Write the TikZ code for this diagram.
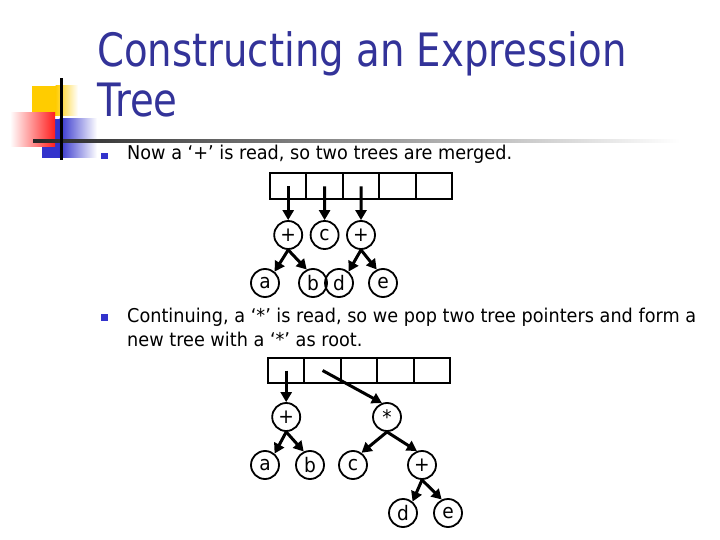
\documentclass[tikz,border=0pt]{standalone}
\usepackage{fontspec}
\usetikzlibrary{arrows.meta}
\newfontfamily\tahoma{DejaVu Sans}[FakeStretch=0.93]
\newfontfamily\tahomatitle{DejaVu Sans}[FakeStretch=0.84]
\definecolor{titleblue}{RGB}{51,51,153}
\definecolor{bulletblue}{RGB}{51,51,204}
\definecolor{logoyellow}{RGB}{255,204,0}
\definecolor{logoblue}{RGB}{51,51,204}
\definecolor{logored}{RGB}{255,30,30}
\tikzset{
  cell/.style={draw, line width=2pt, rectangle, minimum width=36.4pt, minimum height=26pt, inner sep=0pt, outer sep=0pt},
  tnode/.style={draw, line width=1.8pt, circle, minimum size=28pt, inner sep=0pt, font=\tahoma\fontsize{20}{20}\selectfont},
  ptr/.style={line width=3pt, -{Triangle[length=10pt,width=11pt]}},
  body/.style={anchor=base west, inner sep=0pt, font=\tahoma\fontsize{19}{24}\selectfont},
  titletext/.style={anchor=base west, inner sep=0pt, text=titleblue, font=\tahomatitle\fontsize{46}{52}\selectfont},
  bullet/.style={fill=bulletblue, draw=none, minimum width=7pt, minimum height=6.5pt, inner sep=0pt}
}
\begin{document}
\begin{tikzpicture}[x=1pt,y=-1pt]
\useasboundingbox[fill=white] (0,0) rectangle (720,540);
% logo
\fill[logoyellow] (32,86) rectangle (56,116);
\shade[left color=logoyellow, right color=white] (55.5,86) rectangle (78,116);
\fill[logoblue] (42,119) rectangle (60,158);
\shade[left color=logoblue, right color=white] (59.5,119) rectangle (97,158);
\shade[left color=white, right color=logored] (10,113) rectangle (55,147);
\shade[left color=black!85, right color=white] (33,139.5) rectangle (680,142.5);
\fill[black] (59.5,78) rectangle (62.5,160);
% title
\node[titletext] (t1) at (97,67) {Constructing an Expression};
\node[titletext] (t2) at (97,117) {Tree};
% bullets and text
\node[bullet] (b1) at (104.5,156) {};
\node[body] (l1) at (127,160) {Now a ‘+’ is read, so two trees are merged.};
\node[bullet] (b2) at (104.5,317.5) {};
\node[body] (l2) at (127,322) {Continuing, a ‘*’ is read, so we pop two tree pointers and form a};
\node[body] (l3) at (127,346) {new tree with a ‘*’ as root.};
% array 1
\foreach \i in {0,...,4} {
  \node[cell] (a\i) at ({288.2+36.4*\i},186.5) {};
}
\node[tnode] (p1) at (288.2,235) {+};
\node[tnode] (c1) at (324.6,235) {c};
\node[tnode] (p2) at (361,235) {+};
\node[tnode] (na) at (265,283) {a};
\node[tnode] (nb) at (313,283) {b};
\node[tnode] (nd) at (339,283) {d};
\node[tnode] (ne) at (383,283) {e};
\draw[ptr] (a0.center) -- (p1.north);
\draw[ptr] (a1.center) -- (c1.north);
\draw[ptr] (a2.center) -- (p2.north);
\draw[ptr] (p1.south) -- (na.50);
\draw[ptr] (p1.south) -- (nb.115);
\draw[ptr] (p2.south) -- (nd.50);
\draw[ptr] (p2.south) -- (ne.115);
% array 2
\foreach \i in {0,...,4} {
  \node[cell, minimum height=25pt] (s\i) at ({286.2+36.4*\i},370.5) {};
}
\node[tnode] (q) at (286.2,417) {+};
\node[tnode] (st) at (387,417) {*};
\node[tnode] (ma) at (265,465) {a};
\node[tnode] (mb) at (310,465) {b};
\node[tnode] (mc) at (353,465) {c};
\node[tnode] (r) at (422,465) {+};
\node[tnode] (md) at (403,513) {d};
\node[tnode] (me) at (448,513) {e};
\draw[ptr] (s0.center) -- (q.north);
\draw[ptr] (s1.center) -- (st.110);
\draw[ptr] (q.south) -- (ma.50);
\draw[ptr] (q.south) -- (mb.115);
\draw[ptr] (st.south) -- (mc.55);
\draw[ptr] (st.south) -- (r.110);
\draw[ptr] (r.south) -- (md.50);
\draw[ptr] (r.south) -- (me.115);
\end{tikzpicture}
\end{document}
